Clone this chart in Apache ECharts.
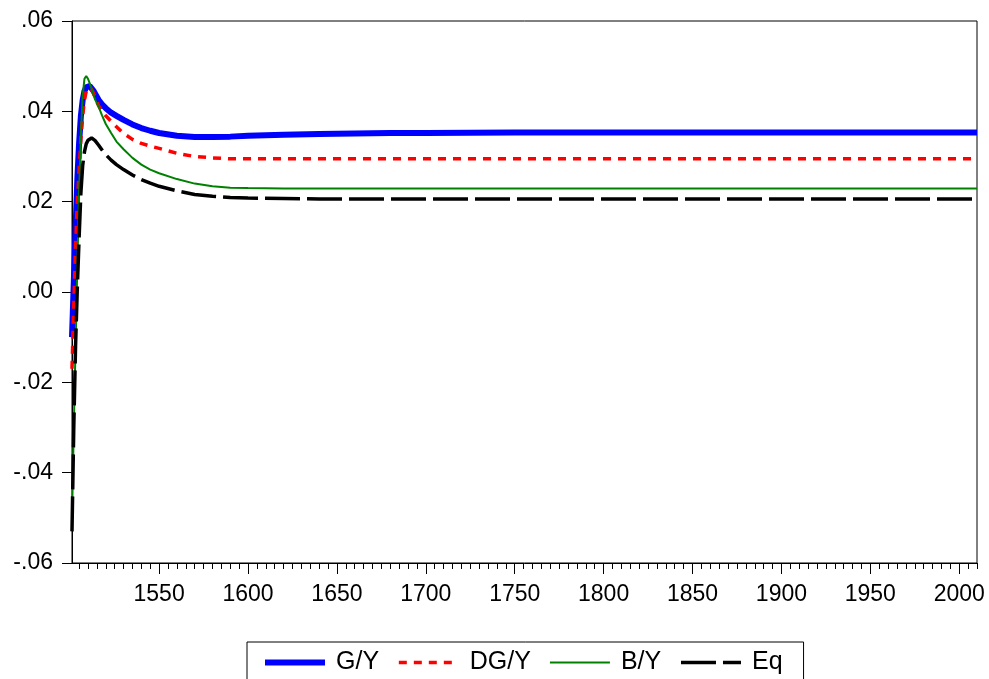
<!DOCTYPE html>
<html>
<head>
<meta charset="utf-8">
<script src="https://cdn.jsdelivr.net/npm/echarts@6/dist/echarts.min.js"></script>
<style>
html,body{margin:0;padding:0;background:#fff;}
#chart{width:989px;height:679px;}
</style>
</head>
<body>
<div id="chart"></div>
<script>
var years = [1501,1502,1503,1504,1505,1506,1507,1508,1509,1510,1511,1512,1513,1514,1516,1518,1520,1523,1526,1530,1535,1540,1545,1550,1560,1570,1580,1590,1600,1620,1640,1660,1680,1700,1750,1800,1850,1900,1950,2000,2010];

var gY  = [-0.010,0.002,0.014,0.025,0.033,0.039,0.0425,0.0445,0.0453,0.0457,0.0456,0.0452,0.0446,0.0439,0.0425,0.0415,0.0407,0.0397,0.0390,0.0381,0.0371,0.0363,0.0357,0.0352,0.0346,0.0343,0.0343,0.0344,0.0346,0.0348,0.0350,0.0351,0.0352,0.0352,0.0353,0.0353,0.0353,0.0353,0.0353,0.0353,0.0353];

var dgY = [-0.017,-0.003,0.010,0.020,0.027,0.034,0.039,0.0425,0.0445,0.0452,0.0453,0.0449,0.0441,0.0431,0.0412,0.0399,0.0390,0.0378,0.0366,0.0351,0.0338,0.0329,0.0323,0.0318,0.0307,0.0300,0.0297,0.0295,0.0295,0.0295,0.0295,0.0295,0.0295,0.0295,0.0295,0.0295,0.0295,0.0295,0.0295,0.0295,0.0295];

var bY  = [-0.050,-0.030,-0.012,0.006,0.022,0.035,0.0435,0.0472,0.0478,0.0472,0.0462,0.0450,0.0438,0.0426,0.0410,0.0390,0.0372,0.0352,0.0333,0.0316,0.0297,0.0282,0.0271,0.0263,0.0250,0.0240,0.0234,0.0231,0.0230,0.0229,0.0229,0.0229,0.0229,0.0229,0.0229,0.0229,0.0229,0.0229,0.0229,0.0229,0.0229];

var eq  = [-0.053,-0.030,-0.012,0.001,0.012,0.022,0.028,0.031,0.0328,0.0336,0.0340,0.0341,0.0339,0.0335,0.0325,0.0314,0.0304,0.0292,0.0282,0.0271,0.0259,0.0249,0.0241,0.0234,0.0224,0.0216,0.0212,0.0209,0.0208,0.0207,0.0206,0.0206,0.0206,0.0206,0.0206,0.0206,0.0206,0.0206,0.0206,0.0206,0.0206];

var seriesNames = ['G/Y','DG/Y','B/Y','Eq'];
var majorTicks = [1550,1600,1650,1700,1750,1800,1850,1900,1950,2000];
var minorTicks = [];
for (var y = 1505; y <= 2010; y += 5) minorTicks.push(y);

function pairs(vals){ return years.map(function(yr,i){ return [yr, vals[i]]; }); }

var FONT = 'Liberation Sans, Arial, sans-serif';
var styles = [
  {color:'#0000ff', width:6, type:'solid'},
  {color:'#ff0000', width:3.5, type:[8,7]},
  {color:'#008000', width:2, type:'solid'},
  {color:'#000000', width:3.5, type:[35,7]}
];
var noSym = {color:'transparent', borderColor:'transparent', borderWidth:0, opacity:0};

var chart = echarts.init(document.getElementById('chart'), null, {renderer:'canvas'});
chart.setOption({
  animation: false,
  backgroundColor: '#fff',
  grid: {left:72, right:12, top:21, bottom:116, show:true, borderColor:'#000', borderWidth:1, backgroundColor:'transparent'},
  xAxis: [{
    type:'value', min:1501, max:2010, gridIndex:0,
    axisLine:{show:true, onZero:false, lineStyle:{color:'#000', width:1}},
    axisTick:{show:true, customValues:majorTicks, length:11, inside:false, lineStyle:{color:'#000', width:1}},
    axisLabel:{show:true, customValues:majorTicks, margin:20, color:'#000', fontSize:23, fontFamily:FONT,
      formatter:function(v){ return String(Math.round(v)); }},
    splitLine:{show:false}
  },{
    type:'value', min:1501, max:2010, gridIndex:0, position:'bottom',
    axisLine:{show:false, onZero:false},
    axisTick:{show:true, customValues:minorTicks, length:6, lineStyle:{color:'#000', width:1}},
    axisLabel:{show:false},
    splitLine:{show:false}
  }],
  yAxis: {
    type:'value', min:-0.06, max:0.06, interval:0.02,
    axisLine:{show:true, onZero:false, lineStyle:{color:'#000', width:1}},
    axisTick:{show:true, length:10, lineStyle:{color:'#000', width:1}},
    axisLabel:{margin:19, color:'#000', fontSize:23, fontFamily:FONT,
      formatter:function(v){ var s = Math.abs(v).toFixed(2).replace(/^0/, ''); return (v < -1e-9 ? '-' : '') + s; }},
    splitLine:{show:false}
  },
  legend: {
    left:247, top:642, orient:'horizontal',
    data: seriesNames.map(function(n,i){
      return {name:n, itemStyle:noSym, lineStyle:{color:styles[i].color, width:styles[i].width, type:styles[i].type}};
    }),
    itemWidth:60, itemHeight:14, itemGap:18,
    itemStyle: noSym,
    borderColor:'#000', borderWidth:1, padding:[8,21,20,15],
    textStyle:{color:'#000', fontSize:25, fontFamily:FONT, padding:[0,0,0,6]}
  },
  series: [gY, dgY, bY, eq].map(function(vals, i){
    return {name:seriesNames[i], type:'line', data:pairs(vals), symbol:'none', showSymbol:false,
      lineStyle:{color:styles[i].color, width:styles[i].width, type:styles[i].type},
      itemStyle:{color:styles[i].color}, z:2+i};
  })
});
</script>
</body>
</html>
